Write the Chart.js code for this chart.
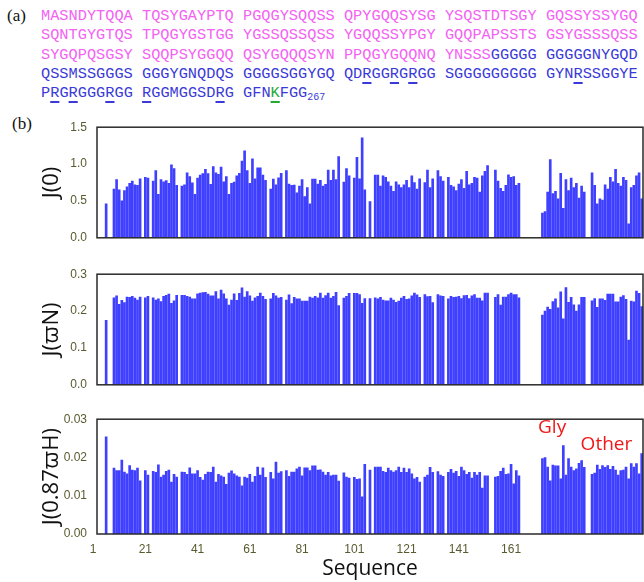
<!DOCTYPE html>
<html><head><meta charset="utf-8">
<script src="https://cdn.jsdelivr.net/npm/chart.js@4.4.1/dist/chart.umd.min.js"></script>
<style>
body{margin:0;width:644px;height:582px;overflow:hidden;background:#fff;position:relative;}
#seq{position:absolute;left:41px;top:7px;font-family:"Liberation Mono",monospace;font-size:15.3px;line-height:19.3px;white-space:pre;}
.p{color:#f462f4}.b{color:#3a3ad8}.g{color:#22aa33}
.u{text-decoration:underline;text-decoration-thickness:2px;text-underline-offset:4px;}
sub{font-size:10px;vertical-align:-3px;}
.lab{position:absolute;font-family:"Liberation Serif",serif;font-size:17px;color:#111;}
canvas{position:absolute;left:0;}
</style></head><body>
<div class="lab" style="left:7px;top:6px">(a)</div>
<div class="lab" style="left:12px;top:114px">(b)</div>
<div id="seq"><span class="p">MASNDYTQQA TQSYGAYPTQ PGQGYSQQSS QPYGQQSYSG YSQSTDTSGY GQSSYSSYGQ</span>
<span class="p">SQNTGYGTQS TPQGYGSTGG YGSSQSSQSS YGQQSSYPGY GQQPAPSSTS GSYGSSSQSS</span>
<span class="p">SYGQPQSGSY SQQPSYGGQQ QSYGQQQSYN PPQGYGQQNQ YNSSS</span><span class="b">GGGGG GGGGGNYGQD</span>
<span class="b">QSSMSSGGGS GGGYGNQDQS GGGGSGGYGQ QD<span class="u">R</span>GG<span class="u">R</span>G<span class="u">R</span>GG SGGGGGGGGG GYN<span class="u">R</span>SSGGYE</span>
<span class="b">P<span class="u">R</span>G<span class="u">R</span>GGG<span class="u">R</span>GG <span class="u">R</span>GGMGGSD<span class="u">R</span>G GFN</span><span class="g u">K</span><span class="b">FGG<sub>267</sub></span></div>
<canvas id="c1" width="644" height="145" style="top:110px"></canvas>
<canvas id="c2" width="644" height="145" style="top:257px"></canvas>
<canvas id="c3" width="644" height="180" style="top:402px"></canvas>
<script>
// residue slot positions that carry a bar (gaps = prolines / unassigned)
const positions = [6,
 9,10,11,12,13,14,15,16,17,18,19,
 21,22,
 24,25,26,27,28,29,30,31,32,33,
 35,36,37,38,39,40,41,42,43,44,45,46,47,48,49,50,51,52,53,54,55,56,57,58,59,60,61,62,63,64,65,66,67,
 69,70,71,72,73,
 75,76,77,78,79,80,81,82,83,84,85,86,87,88,89,90,91,92,93,94,95,
 97,98,99,
 101,102,103,104,105,
 107,
 109,110,111,112,113,114,115,116,117,118,119,120,121,122,123,124,125,126,
 128,129,130,131,
 133,134,135,
 137,138,139,140,141,142,143,144,145,146,147,148,149,150,151,152,
 155,156,157,158,159,160,161,162,163,164,
 173,174,175,176,177,178,179,180,181,182,183,184,185,186,187,188,189,
 192,193,194,195,196,197,198,199,200,201,202,203,204,205,206,207,208,209,210,211];

const j0 = [0.46,
 0.66,0.79,0.65,0.50,0.64,0.69,0.74,0.77,0.72,0.71,0.80,
 0.82,0.81,
 0.77,0.91,0.59,0.79,0.76,0.775,0.74,0.99,0.94,0.71,
 0.70,0.72,0.88,0.83,0.745,0.59,0.81,0.85,0.87,0.93,0.87,0.725,0.965,0.88,0.86,0.96,0.76,0.83,0.59,0.74,0.755,0.84,0.875,1.04,1.18,0.91,0.74,1.07,0.80,0.95,0.95,0.85,0.78,
 0.66,0.795,0.72,0.815,0.875,
 0.91,0.73,0.71,0.715,0.61,0.70,0.79,0.56,0.68,0.46,0.795,0.795,0.73,0.78,0.70,0.725,0.92,0.78,0.92,0.79,1.10,
 0.755,0.94,0.84,
 0.81,1.09,0.80,1.355,0.65,
 0.49,
 0.85,0.85,0.70,0.84,0.82,0.76,0.70,0.63,0.76,0.72,0.68,0.72,0.78,0.68,0.84,0.75,0.66,0.80,
 0.75,0.92,0.68,0.80,
 0.91,0.83,0.77,
 0.82,0.71,0.69,0.64,0.73,0.79,0.67,0.90,0.72,0.74,0.82,0.81,0.62,0.84,0.90,0.98,
 0.92,0.77,0.67,0.63,0.71,0.855,0.82,0.83,0.71,0.74,
 0.335,0.355,0.62,1.06,0.60,0.63,0.53,0.875,0.40,0.79,0.64,0.81,0.68,0.74,0.54,0.70,0.62,
 0.88,0.71,0.46,0.53,0.51,0.72,0.66,0.82,0.76,0.93,0.74,0.70,0.82,0.78,0.19,0.68,0.71,0.84,0.88,0.53];

const jN = [0.175,
 0.236,0.241,0.218,0.229,0.223,0.238,0.237,0.240,0.235,0.230,0.238,
 0.236,0.240,
 0.236,0.230,0.233,0.226,0.240,0.243,0.246,0.221,0.228,0.243,
 0.243,0.243,0.240,0.238,0.233,0.233,0.247,0.249,0.250,0.251,0.246,0.241,0.241,0.253,0.233,0.257,0.247,0.233,0.216,0.230,0.247,0.229,0.248,0.263,0.238,0.253,0.241,0.227,0.236,0.240,0.249,0.240,0.232,
 0.233,0.248,0.241,0.235,0.237,
 0.230,0.244,0.220,0.237,0.233,0.233,0.227,0.227,0.227,0.238,0.235,0.240,0.236,0.249,0.235,0.242,0.249,0.235,0.240,0.251,0.215,
 0.235,0.240,0.248,
 0.248,0.248,0.245,0.221,0.234,
 0.234,
 0.236,0.233,0.237,0.230,0.228,0.228,0.235,0.230,0.224,0.227,0.235,0.240,0.232,0.233,0.241,0.249,0.244,0.237,
 0.245,0.239,0.240,0.223,
 0.245,0.241,0.240,
 0.233,0.240,0.237,0.238,0.240,0.234,0.242,0.243,0.234,0.241,0.245,0.235,0.235,0.228,0.249,0.249,
 0.237,0.245,0.216,0.238,0.238,0.245,0.249,0.245,0.245,0.236,
 0.189,0.200,0.211,0.205,0.226,0.233,0.209,0.252,0.179,0.264,0.224,0.237,0.217,0.200,0.217,0.237,0.237,
 0.228,0.234,0.210,0.233,0.233,0.229,0.246,0.246,0.246,0.225,0.225,0.238,0.242,0.232,0.121,0.227,0.225,0.254,0.248,0.212];

const jH = [0.0254,
 0.0172,0.0166,0.0166,0.0193,0.0162,0.0157,0.0179,0.0167,0.0166,0.0172,0.0139,
 0.0166,0.0154,
 0.0164,0.0161,0.0181,0.0149,0.0154,0.0164,0.0167,0.0136,0.0156,0.0149,
 0.0162,0.0161,0.0156,0.0173,0.0157,0.0157,0.0166,0.0148,0.0141,0.0156,0.0162,0.0161,0.0175,0.0136,0.0156,0.0152,0.0149,0.0130,0.0159,0.0165,0.0157,0.0152,0.0149,0.0126,0.0149,0.0146,0.0156,0.0136,0.0151,0.0175,0.0154,0.0173,0.0148,
 0.0161,0.0144,0.0188,0.0159,0.0163,
 0.0166,0.0151,0.0162,0.0162,0.0170,0.0175,0.0152,0.0173,0.0173,0.0166,0.0178,0.0178,0.0167,0.0168,0.0162,0.0154,0.0161,0.0152,0.0154,0.0154,0.0138,
 0.0160,0.0149,0.0146,
 0.0148,0.0143,0.0144,0.0097,0.0182,
 0.0167,
 0.0175,0.0175,0.0175,0.0164,0.0161,0.0172,0.0166,0.0162,0.0166,0.0175,0.0161,0.0172,0.0161,0.0170,0.0157,0.0144,0.0148,0.0136,
 0.0149,0.0154,0.0174,0.0161,
 0.0163,0.0154,0.0151,
 0.0161,0.0169,0.0159,0.0164,0.0151,0.0175,0.0166,0.0156,0.0161,0.0146,0.0161,0.0154,0.0161,0.0120,0.0152,0.0152,
 0.0149,0.0151,0.0164,0.0172,0.0156,0.0157,0.0182,0.0131,0.0166,0.0152,
 0.0197,0.0200,0.0175,0.0139,0.0180,0.0178,0.0178,0.0144,0.0231,0.0154,0.0197,0.0175,0.0166,0.0170,0.0185,0.0192,0.0174,
 0.0156,0.0159,0.0180,0.0169,0.0179,0.0174,0.0179,0.0169,0.0177,0.0167,0.0154,0.0166,0.0167,0.0175,0.0144,0.0184,0.0175,0.0184,0.0157,0.0210];

const slotCount = 211;
const xTickLabels = [1,21,41,61,81,101,121,141,161];
const groupLabels = ['Gly','Other'];
const groupLabelSlot = [176.7,197.5];
const groupLabelY = [0.0278,0.0234];

// category labels "1".."211" (one slot per residue position)
const slotLabels = Array.from({length:slotCount}, (_,i)=>String(i+1));
function toSlots(values){
  const out = new Array(slotCount).fill(null);
  positions.forEach((p,i)=>{ out[p-1] = values[i]; });
  return out;
}

const tickColor = '#5a5a30';
const barColor = '#3f3fff';

const boxPlugin = {
  id:'box',
  afterDatasetsDraw(chart){
    const {ctx, chartArea:a} = chart;
    ctx.save();
    ctx.strokeStyle = '#2a2a2a';
    ctx.lineWidth = 1.5;
    ctx.strokeRect(a.left, a.top, a.right - a.left, a.bottom - a.top);
    ctx.restore();
  }
};

const groupLabelPlugin = {
  id:'grp',
  afterDraw(chart){
    const {ctx, scales} = chart;
    ctx.save();
    ctx.fillStyle = '#f01818';
    ctx.font = '19px "Open Sans", sans-serif';
    ctx.textAlign = 'center';
    ctx.textBaseline = 'middle';
    groupLabels.forEach((t,i)=>{
      const s = groupLabelSlot[i] - 1;
      const x0 = scales.x.getPixelForValue(Math.floor(s));
      const x1 = scales.x.getPixelForValue(Math.floor(s)+1);
      ctx.fillText(t, x0 + (x1-x0)*(s-Math.floor(s)), scales.y.getPixelForValue(groupLabelY[i]));
    });
    ctx.restore();
  }
};

function makePanel(id, values, yMax, step, decimals, title, pad, showX, extraPlugins){
  return new Chart(document.getElementById(id), {
    type:'bar',
    data:{labels:slotLabels, datasets:[{data:toSlots(values), backgroundColor:barColor, borderWidth:0, barThickness:2}]},
    options:{
      responsive:false, animation:false, devicePixelRatio:1,
      layout:{padding:{left:0, right:1, top:pad[0], bottom:pad[1]}},
      plugins:{legend:{display:false}, tooltip:{enabled:false}},
      scales:{
        x:{
          type:'category', min:'3', max:'211', offset:true, display:showX,
          grid:{display:false, drawTicks:false},
          border:{display:false},
          afterBuildTicks(s){ s.ticks = xTickLabels.map(v=>({value:v-1})); },
          afterFit(s){ if (showX) s.height = 48; },
          ticks:{autoSkip:false, maxRotation:0, padding:8, color:tickColor,
                 font:{family:'"Liberation Sans", Arial, sans-serif', size:12}},
          title:{display:true, text:'Sequence', color:'#111',
                 font:{family:'"Open Sans", sans-serif', size:21}, padding:{top:0,bottom:0}}
        },
        y:{
          min:0, max:yMax,
          grid:{display:false, drawTicks:false},
          border:{display:false},
          afterFit(s){ s.width = 97; },
          ticks:{stepSize:step, padding:10, color:tickColor,
                 font:{family:'"Liberation Sans", Arial, sans-serif', size:12},
                 callback:(v)=>Number(v).toFixed(decimals)},
          title:{display:true, text:title, color:'#111',
                 font:{family:'"Open Sans", "DejaVu Sans", sans-serif', size:22}, padding:{top:39, bottom:0}}
        }
      }
    },
    plugins:[boxPlugin].concat(extraPlugins||[])
  });
}

makePanel('c1', j0, 1.5, 0.5, 1, 'J(0)', [15,9], false);
makePanel('c2', jN, 0.3, 0.1, 1, 'J(\u03D6N)', [10,11], false);
makePanel('c3', jH, 0.03, 0.01, 2, 'J(0.87\u03D6H)', [10,0], true, [groupLabelPlugin]);
</script>
</body></html>
